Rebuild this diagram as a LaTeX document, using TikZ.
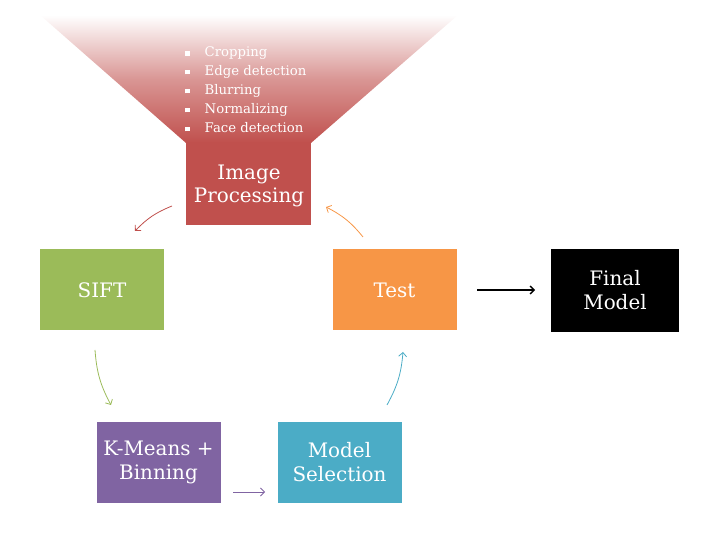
\documentclass[tikz,border=0pt]{standalone}
\usepackage{fontspec}
\setmainfont{DejaVu Serif}
\usetikzlibrary{arrows.meta,positioning}
\definecolor{ipred}{HTML}{C0504D}
\definecolor{siftgreen}{HTML}{9BBB59}
\definecolor{testorange}{HTML}{F79646}
\definecolor{kmpurple}{HTML}{8064A2}
\definecolor{selteal}{HTML}{4BACC6}
\tikzset{
	>={Straight Barb[length=4pt,width=8pt]}, % open arrow heads
	stage/.style={minimum width=124bp, minimum height=81bp, inner sep=0pt,
		text=white, align=center, font=\fontsize{20}{24}\selectfont},
	flow/.style={->, line width=0.8pt},
}
\newcommand{\sqbullet}{\raisebox{0.2ex}{\rule{4.5bp}{4.5bp}}}

\begin{document}
\begin{tikzpicture}[x=1bp, y=1bp]
      \useasboundingbox (0,0) rectangle (720,540);
      % funnel
      \shade[top color=white, bottom color=ipred, middle color=ipred!60]
        (40,525) -- (458,525) -- (311,397) -- (186,397) -- cycle;
      \fill[ipred] (186,397.5) rectangle (311,315);
      \node[text=white, font=\fontsize{20}{24}\selectfont, align=center] (ip) at (249,354) {Image\\Processing};
      \node[anchor=west, text=white, inner sep=0pt, font=\fontsize{13.3}{19}\selectfont] (steps) at (185,449)
        {\begin{tabular}{@{}l@{\hspace{15bp}}l@{}}
          \sqbullet & Cropping\\
          \sqbullet & Edge detection\\
          \sqbullet & Blurring\\
          \sqbullet & Normalizing\\
          \sqbullet & Face detection
        \end{tabular}};

      \node[stage, fill=siftgreen] (sift) at (102,250) {SIFT};
      \node[stage, fill=testorange] (test) at (394.5,250) {Test};
      \node[stage, fill=black, minimum width=128bp, minimum height=83bp] (final) at (615,249.5) {Final\\Model};
      \node[stage, fill=kmpurple] (kmeans) at (158.5,77.5) {K-Means +\\Binning};
      \node[stage, fill=selteal] (msel) at (339.5,77.5) {Model\\Selection};

      % arrow ends
      \coordinate (a1) at (172,334); \coordinate (a2) at (135,309);
      \coordinate (b1) at (95,190);  \coordinate (b2) at (111,135);
      \coordinate (c1) at (233,48);  \coordinate (c2) at (265,48);
      \coordinate (d1) at (387,135); \coordinate (d2) at (403,188);
      \coordinate (e1) at (363,303); \coordinate (e2) at (326,333);
      \coordinate (f1) at (477,250); \coordinate (f2) at (535,250);

      \draw[flow, ipred] (a1) to[bend right=12] (a2);
      \draw[flow, siftgreen] (b1) to[bend right=12] (b2);
      \draw[flow, kmpurple] (c1) -- (c2);
      \draw[flow, selteal] (d1) to[bend right=12] (d2);
      \draw[flow, testorange] (e1) to[bend right=12] (e2);
      \draw[->, line width=1.3pt] (f1) -- (f2);
\end{tikzpicture}
\end{document}
